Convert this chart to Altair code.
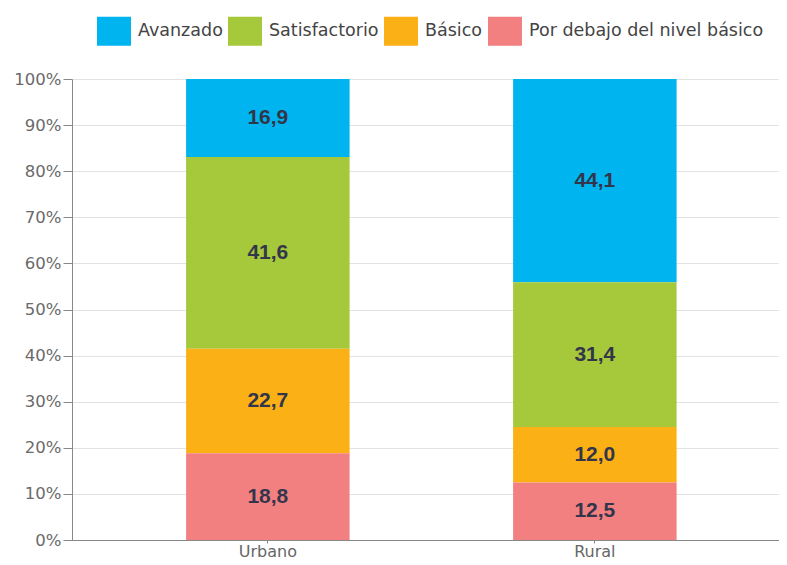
import altair as alt
import pandas as pd

areas = ["Urbano", "Rural"]
levels = ["Avanzado", "Satisfactorio", "Básico", "Por debajo del nivel básico"]
colors = ["#00B5EF", "#A5C93A", "#FBB116", "#F28080"]
# values per level, listed for [Urbano, Rural]
avanzado = [16.9, 44.1]
satisfactorio = [41.6, 31.4]
basico = [22.7, 12.0]
por_debajo = [18.8, 12.5]

series = [avanzado, satisfactorio, basico, por_debajo]
rows = []
for li, (lvl, vals) in enumerate(zip(levels, series)):
    for ai, a in enumerate(areas):
        rows.append({"area": a, "nivel": lvl, "val": vals[ai], "ord": 3 - li})
df = pd.DataFrame(rows)

font = "DejaVu Sans"
bold_font = "Liberation Sans"

base = alt.Chart(df).transform_stack(
    stack="val", groupby=["area"], sort=[{"field": "ord", "order": "ascending"}], as_=["y0", "y1"]
).transform_calculate(
    mid="(datum.y0 + datum.y1) / 2",
    lab="replace(format(datum.val, '.1f'), '.', ',')",
)

x = alt.X("area:N", sort=areas, title=None,
          scale=alt.Scale(paddingInner=0.5, paddingOuter=0.331, align=0.527),
          axis=alt.Axis(labelAngle=0, labelColor="#666", labelFontSize=16, labelFont=font,
                        domainColor="#888", tickColor="#888", tickSize=3, labelPadding=0))

bars = base.mark_bar().encode(
    x=x,
    y=alt.Y("y0:Q", title=None, scale=alt.Scale(domain=[0, 100]),
            axis=alt.Axis(values=list(range(0, 101, 10)), labelExpr="datum.value + '%'",
                          labelColor="#6a6a6a", labelFontSize=16.5, labelFont=font,
                          domainColor="#888", tickColor="#888", tickSize=9,
                          gridColor="#e2e2e2", labelPadding=2)),
    y2="y1:Q",
    color=alt.Color("nivel:N", sort=levels, scale=alt.Scale(domain=levels, range=colors),
                    legend=alt.Legend(title=None, orient="none", legendX=25, legendY=-65,
                                      direction="horizontal",
                                      symbolType="M-1,-0.85H1V0.85H-1Z",
                                      symbolSize=1156, symbolStrokeWidth=0, symbolOpacity=1,
                                      labelFontSize=17.5, labelFont=font, labelColor="#444",
                                      labelLimit=400, columnPadding=5, labelOffset=7)),
)

text = base.mark_text(fontSize=21, fontWeight="bold", color="#33364a", font=bold_font).encode(
    x=alt.X("area:N", sort=areas),
    y=alt.Y("mid:Q"),
    text="lab:N",
)

chart = (bars + text).properties(
    width=707, height=461,
    autosize=alt.AutoSizeParams(type="none"),
    padding={"left": 64, "top": 71, "right": 0, "bottom": 21},
).configure_view(stroke=None)

chart.save("out.html", embed_options={"renderer": "svg", "actions": False})
